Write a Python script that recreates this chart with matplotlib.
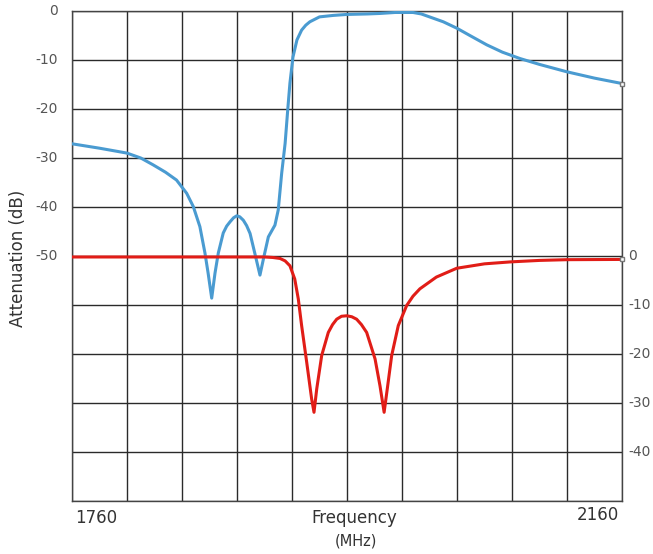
import matplotlib
matplotlib.use("Agg")
import matplotlib.pyplot as plt

# ---- data ----
blue_freq = [1760, 1780, 1800, 1810, 1819, 1828, 1836, 1843.4, 1848.2, 1853, 1856.7,
             1859, 1861.6, 1864, 1866.4, 1870, 1872.5, 1875, 1877.5, 1879.8, 1882,
             1884.6, 1887, 1889.5, 1893, 1896.7, 1899.6, 1902.8, 1905, 1907.6, 1910,
             1912.5, 1915, 1917, 1918.5, 1920.7, 1923.6, 1927, 1930, 1933, 1940, 1950,
             1960, 1975, 1984, 1995, 2008, 2014, 2020, 2030, 2039.8, 2050, 2061.6, 2073,
             2085.8, 2100, 2119.8, 2140, 2160]
blue_db = [-27.1, -28.0, -29.0, -30.0, -31.4, -32.9, -34.5, -37.2, -39.9, -44.0, -49.4,
           -53.5, -58.6, -53.5, -49.4, -45.3, -43.9, -43.0, -42.2, -41.8, -42.0,
           -42.7, -43.8, -45.4, -49.5, -53.9, -50.1, -46.1, -45.0, -43.7, -40.6,
           -33.1, -27.0, -19.8, -14.7, -9.4, -5.9, -3.9, -2.9, -2.2, -1.2, -0.9,
           -0.7, -0.6, -0.5, -0.3, -0.3, -0.6, -1.2, -2.2, -3.5, -5.1, -6.9, -8.4,
           -9.7, -10.9, -12.4, -13.7, -14.8]

red_freq = [1760, 1880, 1900, 1906, 1911.3, 1915, 1918.5, 1922, 1924.6, 1927, 1930.7,
            1934.3, 1936, 1938, 1941.6, 1946.4, 1949.5, 1952.5, 1956, 1959.8, 1963.5,
            1967, 1970.5, 1974.3, 1980.4, 1984, 1987, 1989.3, 1992.5, 1997.3, 2003.4,
            2008, 2013, 2025, 2039.8, 2060, 2079, 2100, 2120, 2160]
red_db = [-0.2, -0.2, -0.2, -0.3, -0.5, -1.0, -2.0, -4.7, -8.8, -14.2, -21.7,
          -29.2, -31.9, -27.1, -20.3, -15.6, -14.0, -12.9, -12.3, -12.2, -12.4,
          -12.9, -14.0, -15.6, -21.0, -26.5, -31.9, -27.1, -20.3, -14.2, -10.1,
          -8.2, -6.7, -4.3, -2.5, -1.6, -1.2, -0.9, -0.75, -0.7]

x_grid = list(range(1760, 2161, 40))
left_ticks = [0, -10, -20, -30, -40, -50]
right_ticks = [0, -10, -20, -30, -40]

blue_color = "#4a9bd1"
red_color = "#e11d17"
text_color = "#333333"

fig = plt.figure(figsize=(6.53, 5.54), dpi=100)
ax = fig.add_axes([72/653, 1-501/554, 550/653, 490/554])
ax.set_xlim(1760, 2160)
ax.set_ylim(-100, 0)

ax.set_xticks(x_grid)
ax.set_yticks(list(range(-100, 1, 10)))
ax.grid(True, color="#2a2a2a", linewidth=1.0)
ax.tick_params(length=0, labelbottom=False, labelleft=False)
for s in ax.spines.values():
    s.set_color("#444444")
    s.set_linewidth(1.0)

ax.plot(blue_freq, blue_db, color=blue_color, linewidth=2.2, solid_joinstyle="round",
        solid_capstyle="round", zorder=3)
ax.plot(red_freq, [v - 50 for v in red_db], color=red_color, linewidth=2.2,
        solid_joinstyle="round", solid_capstyle="round", zorder=4)
# small end markers
ax.plot([blue_freq[-1]], [blue_db[-1]], marker="s", markersize=3.5, markerfacecolor="white",
        markeredgecolor="#777777", clip_on=False, zorder=5)
ax.plot([red_freq[-1]], [red_db[-1] - 50], marker="s", markersize=3.5, markerfacecolor="white",
        markeredgecolor="#777777", clip_on=False, zorder=5)

# left tick labels
for v in left_ticks:
    ax.text(-0.025, (v + 100) / 100, str(v), transform=ax.transAxes, ha="right", va="center",
            fontsize=10, color="#555555")
# right tick labels (offset scale for red curve)
for v in right_ticks:
    ax.text(1.012, (v + 50) / 100, str(v), transform=ax.transAxes, ha="left", va="center",
            fontsize=10, color="#555555")

fig.text(75/653, 1-518/554, "1760", ha="left", va="center", fontsize=12, color=text_color)
fig.text(619/653, 1-515/554, "2160", ha="right", va="center", fontsize=12, color=text_color)
fig.text(354/653, 1-518/554, "Frequency", ha="center", va="center", fontsize=12, color=text_color)
fig.text(356/653, 1-541/554, "(MHz)", ha="center", va="center", fontsize=10.5, color=text_color)
fig.text(18/653, 1-258/554, "Attenuation (dB)", ha="center", va="center", rotation=90,
         fontsize=12, color=text_color)

fig.savefig("out.png", dpi=100)
